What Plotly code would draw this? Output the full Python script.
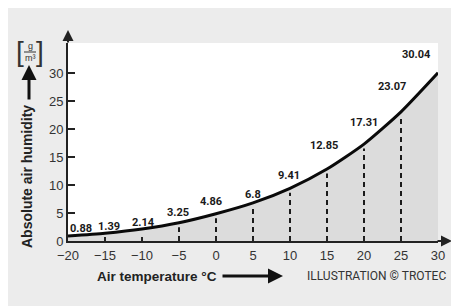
import plotly.graph_objects as go

temps = [-20, -15, -10, -5, 0, 5, 10, 15, 20, 25, 30]
humidity = [0.88, 1.39, 2.14, 3.25, 4.86, 6.8, 9.41, 12.85, 17.31, 23.07, 30.04]
value_labels = ["0.88", "1.39", "2.14", "3.25", "4.86", "6.8", "9.41", "12.85", "17.31", "23.07", "30.04"]
x_ticks = [-20, -15, -10, -5, 0, 5, 10, 15, 20, 25, 30]
y_ticks = [0, 5, 10, 15, 20, 25, 30]
dashed_temps = [-5, 0, 5, 10, 15, 20, 25]

# label pixel offsets (style)
label_dx = [13, 4, 1, -1, -5, 0, -1, -3, 0, -9, -22]
label_dy = [8, 7, 7, 10, 12, 8, 13, 24, 22, 25, 18]
DASH_GAP = 0.8               # gap (in axis units) between dashed line top and curve

OFF = 8                      # page body margin
W, H = 451, 298              # figure size
L, R, T, B = 60, 21, 35, 65
pw, ph = W - L - R, H - T - B

def px(x):                   # page pixel -> paper fraction
    return (x - OFF - L) / pw

def py(y):
    return (H - B - (y - OFF)) / ph

FONT = "Liberation Sans, Arial, Helvetica, sans-serif"
NARROW = "Roboto, Liberation Sans, sans-serif"

fig = go.Figure()

fig.add_trace(go.Scatter(
    x=temps, y=humidity, mode="lines",
    line=dict(color="#0a0a0a", width=3, shape="spline", smoothing=0.6),
    fill="tozeroy", fillcolor="#dcdcdc", hoverinfo="skip", showlegend=False,
))

for t in dashed_temps:
    v = humidity[temps.index(t)]
    fig.add_trace(go.Scatter(
        x=[t, t], y=[0, v - DASH_GAP], mode="lines",
        line=dict(color="#1a1a1a", width=2, dash="5px,4px"),
        hoverinfo="skip", showlegend=False,
    ))

annotations = []
for t, v, lab, dx, dy in zip(temps, humidity, value_labels, label_dx, label_dy):
    annotations.append(dict(
        x=t, y=v, xref="x", yref="y", text="<b>" + lab + "</b>", showarrow=False,
        xanchor="center", yanchor="middle", xshift=dx, yshift=dy,
        font=dict(family=NARROW, size=11, color="#1a1a1a"),
    ))

# axis arrow extensions
annotations.append(dict(xref="paper", yref="paper", x=px(452), y=0, ax=-16, ay=0,
                        showarrow=True, arrowhead=2,
                        arrowsize=1.1, arrowwidth=2, arrowcolor="#222222", text=""))
annotations.append(dict(xref="paper", yref="paper", x=0, y=py(30), ax=0, ay=14,
                        showarrow=True, arrowhead=2,
                        arrowsize=1.1, arrowwidth=2, arrowcolor="#222222", text=""))

# axis titles
annotations.append(dict(xref="paper", yref="paper", x=px(27), y=py(177),
                        text="<b>Absolute air humidity</b>", textangle=-90, showarrow=False,
                        xanchor="center", yanchor="middle",
                        font=dict(family=FONT, size=14, color="#222222")))
annotations.append(dict(xref="paper", yref="paper", x=px(29), y=py(65), ax=0, ay=36,
                        showarrow=True, arrowhead=2, arrowsize=1, arrowwidth=3,
                        arrowcolor="#111111", text=""))
annotations.append(dict(xref="paper", yref="paper", x=px(157), y=py(276),
                        text="<b>Air temperature °C</b>", showarrow=False,
                        xanchor="center", yanchor="middle",
                        font=dict(family=FONT, size=13.5, color="#222222")))
annotations.append(dict(xref="paper", yref="paper", x=px(283), y=py(276), ax=-62, ay=0,
                        showarrow=True, arrowhead=2, arrowsize=1, arrowwidth=3,
                        arrowcolor="#111111", text=""))
annotations.append(dict(xref="paper", yref="paper", x=px(448), y=py(276),
                        text="ILLUSTRATION © TROTEC", showarrow=False,
                        xanchor="right", yanchor="middle",
                        font=dict(family=NARROW, size=12, color="#333333")))

# unit bracket [g/m³]
annotations.append(dict(xref="paper", yref="paper", x=px(20), y=py(51), text="[",
                        showarrow=False, xanchor="center", yanchor="middle",
                        font=dict(family=FONT, size=28, color="#333333")))
annotations.append(dict(xref="paper", yref="paper", x=px(40), y=py(51), text="]",
                        showarrow=False, xanchor="center", yanchor="middle",
                        font=dict(family=FONT, size=28, color="#333333")))
annotations.append(dict(xref="paper", yref="paper", x=px(30), y=py(46), text="g",
                        showarrow=False, xanchor="center", yanchor="middle",
                        font=dict(family=FONT, size=9, color="#333333")))
annotations.append(dict(xref="paper", yref="paper", x=px(30), y=py(58), text="m³",
                        showarrow=False, xanchor="center", yanchor="middle",
                        font=dict(family=FONT, size=9, color="#333333")))

shapes = [
    dict(type="line", xref="paper", yref="paper", x0=px(24), x1=px(36), y0=py(52), y1=py(52),
         line=dict(color="#333333", width=1)),
]

fig.update_layout(
    width=W, height=H,
    margin=dict(l=L, r=R, t=T, b=B, pad=0, autoexpand=False),
    paper_bgcolor="#ececec", plot_bgcolor="white",
    showlegend=False,
    annotations=annotations, shapes=shapes,
    xaxis=dict(range=[-20, 30], tickvals=x_ticks, ticks="inside", ticklen=4, tickwidth=1.5,
               tickcolor="#222222", showline=True, linecolor="#222222", linewidth=2,
               showgrid=False, zeroline=False, automargin=False, ticklabelstandoff=1,
               tickfont=dict(family=FONT, size=13, color="#333333")),
    yaxis=dict(range=[0, 35.36], tickvals=y_ticks, ticks="inside", ticklen=7, tickwidth=1.5,
               tickcolor="#222222", showline=True, linecolor="#222222", linewidth=2,
               showgrid=False, zeroline=False, automargin=False,
               tickfont=dict(family=FONT, size=13, color="#333333")),
)

fig.write_html("out.html")
